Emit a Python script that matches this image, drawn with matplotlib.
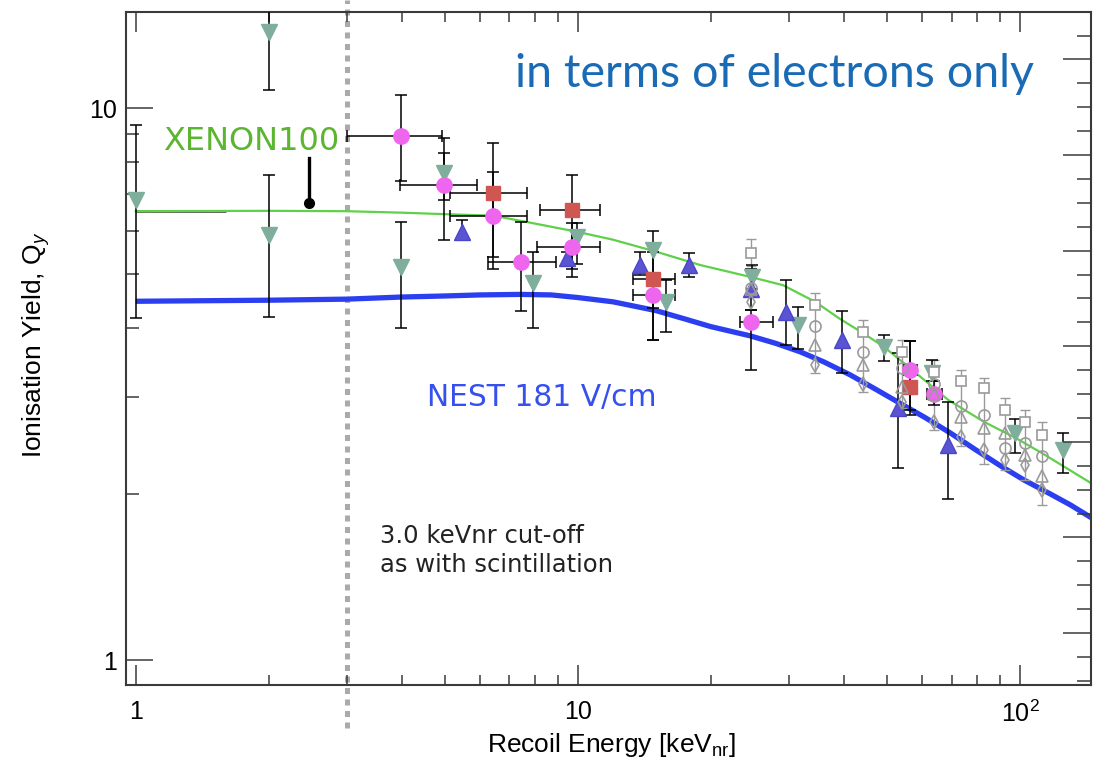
import numpy as np
import matplotlib.pyplot as plt
from matplotlib.ticker import FixedLocator, FixedFormatter, NullFormatter, LogLocator, MultipleLocator
from matplotlib.transforms import blended_transform_factory

plt.rcParams['font.family'] = ['Liberation Sans', 'DejaVu Sans']
plt.rcParams['mathtext.fontset'] = 'custom'
plt.rcParams['mathtext.rm'] = 'Liberation Sans'
plt.rcParams['mathtext.it'] = 'Liberation Sans:italic'

# XENON100 fit (green) and NEST model at 181 V/cm (blue)
xe_fit_E = [1, 2, 3, 4, 5, 6.44, 7.93, 10, 12, 15, 18.9, 24.5, 29.1, 34.4, 39.0, 44.2, 49.1, 56.4, 68.8, 83.0, 97.4, 112.2, 145]
xe_fit_Q = [6.51, 6.52, 6.51, 6.47, 6.43, 6.39, 6.19, 5.97, 5.78, 5.50, 5.20, 4.95, 4.78, 4.46, 4.16, 3.91, 3.70, 3.38, 2.96, 2.70, 2.53, 2.37, 2.09]
nest_E = [1, 2, 3, 4, 5, 6, 7.4, 8.7, 10, 12, 15, 17.3, 20, 24.5, 28, 31.8, 36, 41.2, 47, 53.5, 61, 69.5, 79, 90.2, 102, 117, 130, 145]
nest_Q = [4.47, 4.49, 4.51, 4.55, 4.57, 4.59, 4.60, 4.59, 4.54, 4.46, 4.30, 4.16, 4.02, 3.87, 3.75, 3.62, 3.47, 3.29, 3.10, 2.92, 2.75, 2.58, 2.41, 2.25, 2.12, 2.00, 1.91, 1.81]

# grey-green downward triangles
tri_E  = [1.0, 2.0, 2.0, 3.98, 4.97, 7.93, 9.94, 14.8, 15.8, 24.7, 31.4, 49.1, 63.1, 97.4, 125.3]
tri_Q  = [6.82, 13.77, 5.89, 5.16, 7.62, 4.82, 5.85, 5.54, 4.46, 4.94, 4.05, 3.70, 3.31, 2.58, 2.40]
tri_lo = [4.16, 10.8, 4.18, 3.99, 5.78, 3.99, 5.23, 3.80, 3.94, 4.70, 3.67, 3.48, 3.20, 2.37, 2.18]
tri_hi = [9.33, 20.0, 7.57, 6.23, 8.82, 5.50, 6.20, 6.00, 4.88, 5.20, 4.36, 3.88, 3.50, 2.74, 2.58]

# magenta circles
mag_E   = [3.98, 4.98, 6.44, 7.43, 9.71, 14.8, 24.6, 56.4, 63.9]
mag_Elo = [3.00, 3.96, 5.13, 6.27, 8.10, 13.3, 23.2, 54.5, 61.6]
mag_Ehi = [4.92, 5.90, 7.66, 8.94, 11.2, 16.6, 27.6, 58.5, 66.6]
mag_Q   = [8.91, 7.26, 6.39, 5.26, 5.61, 4.59, 4.10, 3.35, 3.04]
mag_lo  = [7.38, 6.82, 5.12, 4.30, 5.12, 3.80, 3.35, 2.84, 2.90]
mag_hi  = [10.57, 8.30, 7.68, 6.23, 6.20, 4.90, 4.31, 3.78, 3.20]

# red squares
sq_E   = [6.44, 9.71, 14.8, 56.4]
sq_Elo = [5.13, 8.20, 13.3, 54.8]
sq_Ehi = [7.66, 11.2, 16.6, 58.3]
sq_Q   = [7.01, 6.54, 4.90, 3.12]
sq_lo  = [5.38, 4.95, 4.34, 2.78]
sq_hi  = [8.66, 7.57, 5.50, 3.78]

# blue upward triangles
up_E  = [5.46, 9.43, 13.8, 17.8, 24.6, 29.6, 39.5, 53.0, 68.5]
up_Q  = [5.98, 5.35, 5.20, 5.20, 4.70, 4.28, 3.80, 2.86, 2.45]
up_lo = [5.78, 5.20, 4.98, 4.95, 4.31, 3.72, 3.32, 2.23, 1.96]
up_hi = [6.27, 5.50, 5.50, 5.47, 5.12, 4.88, 4.30, 3.60, 2.94]

# open grey points (squares, circles, triangles, diamonds)
open_E     = [24.6, 34.4, 44.2, 54.0, 64.0, 73.5, 83.0, 92.4, 102.6, 112.2]
open_sq    = [5.47, 4.40, 3.94, 3.62, 3.33, 3.20, 3.11, 2.84, 2.70, 2.56]
open_circ  = [4.73, 4.03, 3.62, 3.38, 3.17, 2.89, 2.78, 2.42, 2.47, 2.34]
open_tri   = [4.70, 3.72, 3.42, 3.13, 3.04, 2.76, 2.63, 2.58, 2.35, 2.16]
open_diam  = [4.45, 3.43, 3.17, 2.94, 2.70, 2.54, 2.40, 2.30, 2.26, 2.03]
open_top   = [5.80, 4.62, 4.13, 3.80, 3.50, 3.35, 3.24, 2.98, 2.84, 2.70]
open_bot   = [5.17, 3.31, 3.06, 2.86, 2.61, 2.44, 2.27, 2.21, 2.12, 1.91]

# XENON100 single point with stick, XENON10 low-energy bin
x100_E, x100_Q, x100_top = 2.47, 6.74, 8.12
x10_E, x10_Q, x10_Ehi = 1.0, 6.52, 1.6

cut_E = 3.0

fig = plt.figure(figsize=(10.98, 7.64), dpi=100)
W, H = 1098, 764
ax = fig.add_axes([125.7 / W, 79 / H, (1091 - 125.7) / W, (685 - 11.7) / H])
ax.set_xscale('log')
ax.set_yscale('log')
ax.set_xlim(0.949, 144.6)
ax.set_ylim(0.901, 14.97)

# model curves
ax.plot(nest_E, nest_Q, color='#2b3ff0', lw=3.8, zorder=2, solid_capstyle='butt', solid_joinstyle='round')
ax.plot(xe_fit_E, xe_fit_Q, color='#5fd04a', lw=1.6, zorder=2.5, solid_joinstyle='round')

ebk = dict(ecolor='black', elinewidth=1.1, capsize=4, capthick=1.1, ls='none', zorder=3)

# open grey points
ax.errorbar(open_E, open_top, yerr=[np.array(open_top) - np.array(open_bot), np.zeros(len(open_E))],
            fmt='none', ecolor='#9a9a9a', elinewidth=1.0, capsize=3.5, capthick=1.0, zorder=3)
ax.plot(open_E, open_sq, ls='none', marker='s', ms=7.5, mfc='white', mec='#9a9a9a', mew=1.2, zorder=3.5)
ax.plot(open_E, open_circ, ls='none', marker='o', ms=8, mfc='none', mec='#9a9a9a', mew=1.2, zorder=3.5)
ax.plot(open_E, open_tri, ls='none', marker='^', ms=8, mfc='none', mec='#9a9a9a', mew=1.2, zorder=3.5)
ax.plot(open_E, open_diam, ls='none', marker='d', ms=7, mfc='none', mec='#9a9a9a', mew=1.2, zorder=3.5)

# grey-green triangles
tQ = np.array(tri_Q)
ax.errorbar(tri_E, tri_Q, yerr=[tQ - np.array(tri_lo), np.array(tri_hi) - tQ],
            marker='v', ms=11, mfc='#7fae9c', mec='#7fae9c', **ebk)

# blue triangles
uQ = np.array(up_Q)
ax.errorbar(up_E, up_Q, yerr=[uQ - np.array(up_lo), np.array(up_hi) - uQ],
            marker='^', ms=11, mfc='#5a54d2', mec='#4b46c8', **ebk)

# red squares
sE, sQ = np.array(sq_E), np.array(sq_Q)
ax.errorbar(sq_E, sq_Q, xerr=[sE - np.array(sq_Elo), np.array(sq_Ehi) - sE],
            yerr=[sQ - np.array(sq_lo), np.array(sq_hi) - sQ],
            marker='s', ms=10, mfc='#cf5652', mec='#cf5652', **ebk)

# magenta circles
mE, mQ = np.array(mag_E), np.array(mag_Q)
ax.errorbar(mag_E, mag_Q, xerr=[mE - np.array(mag_Elo), np.array(mag_Ehi) - mE],
            yerr=[mQ - np.array(mag_lo), np.array(mag_hi) - mQ],
            marker='o', ms=11, mfc='#ee66ee', mec='#ee66ee', **ebk)

# XENON10 bin and XENON100 point
ax.errorbar([x10_E], [x10_Q], xerr=[[0], [x10_Ehi - x10_E]], fmt='none', ecolor='#333333',
            elinewidth=1.8, capsize=0, zorder=2.2)
ax.plot([x100_E, x100_E], [x100_Q, x100_top], color='black', lw=2.4, zorder=4)
ax.plot([x100_E], [x100_Q], 'o', color='black', ms=7, zorder=4)

# 3 keVnr cut-off line
trans = blended_transform_factory(ax.transData, ax.transAxes)
ax.plot([cut_E, cut_E], [-0.064, 1.017], transform=trans, color='#aaaaaa', lw=3.6,
        ls=(0, (1.2, 1.1)), clip_on=False, zorder=1)

# axes styling
for s in ax.spines.values():
    s.set_linewidth(1.5)
    s.set_color('#3a3a3a')

ax.xaxis.set_major_locator(FixedLocator([1, 10, 100]))
ax.xaxis.set_major_formatter(FixedFormatter(['1', '10', r'$10^{2}$']))
ax.xaxis.set_minor_locator(LogLocator(base=10, subs=np.arange(2, 10)))
ax.xaxis.set_minor_formatter(NullFormatter())
ax.yaxis.set_major_locator(FixedLocator([1, 10]))
ax.yaxis.set_major_formatter(FixedFormatter(['1', '10']))
ax.yaxis.set_minor_locator(LogLocator(base=10, subs=np.arange(2, 10)))
ax.yaxis.set_minor_formatter(NullFormatter())

ax.tick_params(axis='x', which='both', direction='in', top=True, bottom=True, width=1.1, color='#3a3a3a')
ax.tick_params(axis='x', which='major', length=14.4, pad=11, labelsize=18)
ax.tick_params(axis='x', which='minor', length=7.2)
ax.tick_params(axis='y', which='both', direction='in', left=True, right=False, width=1.1, color='#3a3a3a')
ax.tick_params(axis='y', which='major', length=19.5, pad=6.5, labelsize=18)
ax.tick_params(axis='y', which='minor', length=9)

# right-hand linear tick scale
ax2 = ax.twinx()
ax2.set_ylim(-0.544, 6.5)
ax2.yaxis.set_major_locator(MultipleLocator(1))
ax2.yaxis.set_minor_locator(MultipleLocator(0.25))
ax2.tick_params(axis='y', which='both', direction='in', right=True, labelright=False, width=1.1, color='#3a3a3a')
ax2.tick_params(axis='y', which='major', length=20)
ax2.tick_params(axis='y', which='minor', length=10)
for s in ax2.spines.values():
    s.set_visible(False)

# axis titles
fig.text(612 / W, 1 - 752 / H, r'Recoil Energy [keV$_{\rm nr}$]', fontsize=19,
         ha='center', va='baseline')
fig.text(41.7 / W, 1 - 345 / H, r'Ionisation Yield, Q$_{y}$', fontsize=19, rotation=90,
         rotation_mode='anchor', ha='center', va='baseline')

# annotations
fig.text(163 / W, 1 - 150 / H, 'XENON100', family='DejaVu Sans', fontsize=23,
         color='#5cb531', ha='left', va='baseline')
fig.text(426.7 / W, 1 - 405.7 / H, 'NEST 181 V/cm', family='DejaVu Sans', fontsize=21.4,
         color='#3650ee', ha='left', va='baseline')
fig.text(515 / W, 1 - 86.7 / H, 'in terms of electrons only', family='Lato', fontsize=33.5,
         color='#1a6bb5', ha='left', va='baseline')
fig.text(380 / W, 1 - 571.7 / H, '3.0 keVnr cut-off\nas with scintillation', family='DejaVu Sans',
         fontsize=17.5, color='#222222', ha='left', va='baseline', linespacing=1.25)

fig.savefig('out.png', dpi=100)
